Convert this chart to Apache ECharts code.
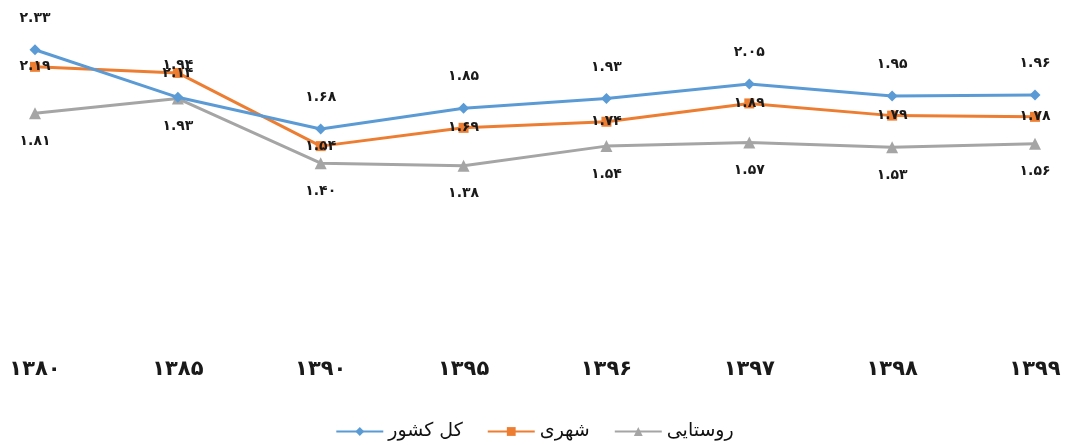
<!DOCTYPE html>
<html>
<head>
<meta charset="utf-8">
<script src="https://cdn.jsdelivr.net/npm/echarts@6/dist/echarts.min.js"></script>
<style>
html,body{margin:0;padding:0;background:#fff;}
#c{width:1069px;height:445px;}
</style>
</head>
<body>
<div id="c"></div>
<script>
var categories = ['1380','1385','1390','1395','1396','1397','1398','1399'];
var seriesNames = ['کل کشور','شهری','روستایی'];
var totalValues = [2.33, 1.94, 1.68, 1.85, 1.93, 2.05, 1.95, 1.96];
var urbanValues = [2.19, 2.14, 1.54, 1.69, 1.74, 1.89, 1.79, 1.78];
var ruralValues = [1.81, 1.93, 1.40, 1.38, 1.54, 1.57, 1.53, 1.56];

function toFa(s){
  return String(s).replace(/[0-9]/g, function(d){ return '۰۱۲۳۴۵۶۷۸۹'[+d]; });
}
var FONT = 'DejaVu Sans';
var labelBase = {
  show: true,
  color: '#1a1a1a',
  fontFamily: FONT,
  fontWeight: 'bold',
  fontSize: 14,
  formatter: function(p){ return toFa(p.value.toFixed(2)); }
};
var chart = echarts.init(document.getElementById('c'), null, {renderer:'canvas'});
chart.setOption({
  animation: false,
  backgroundColor: '#fff',
  grid: {left: 35, right: 34, top: 29, bottom: 111},
  legend: {
    bottom: -1,
    left: 'center',
    itemWidth: 47,
    itemHeight: 11,
    itemGap: 24,
    textStyle: {fontFamily: FONT, fontSize: 19, color: '#111'}
  },
  xAxis: {
    type: 'category',
    data: categories,
    boundaryGap: false,
    axisLine: {show: false},
    axisTick: {show: false},
    axisLabel: {
      margin: 25,
      fontFamily: FONT,
      fontWeight: 'bold',
      fontSize: 21,
      color: '#1a1a1a',
      formatter: function(v){ return toFa(v); }
    }
  },
  yAxis: {
    type: 'value',
    min: 0,
    max: 2.5,
    show: false,
    splitLine: {show: false}
  },
  series: [
    {
      name: seriesNames[0], type: 'line', data: totalValues,
      symbol: 'diamond', symbolSize: 11,
      itemStyle: {color: '#5B9BD5'},
      lineStyle: {color: '#5B9BD5', width: 3},
      label: Object.assign({}, labelBase, {position: 'top', distance: 19}),
      z: 3
    },
    {
      name: seriesNames[1], type: 'line', data: urbanValues,
      symbol: 'rect', symbolSize: 10,
      itemStyle: {color: '#ED7D31'},
      lineStyle: {color: '#ED7D31', width: 3},
      label: Object.assign({}, labelBase, {position: 'inside'}),
      z: 2
    },
    {
      name: seriesNames[2], type: 'line', data: ruralValues,
      symbol: 'triangle', symbolSize: 12,
      itemStyle: {color: '#A5A5A5'},
      lineStyle: {color: '#A5A5A5', width: 3},
      label: Object.assign({}, labelBase, {position: 'bottom', distance: 15}),
      z: 1
    }
  ]
});
</script>
</body>
</html>
